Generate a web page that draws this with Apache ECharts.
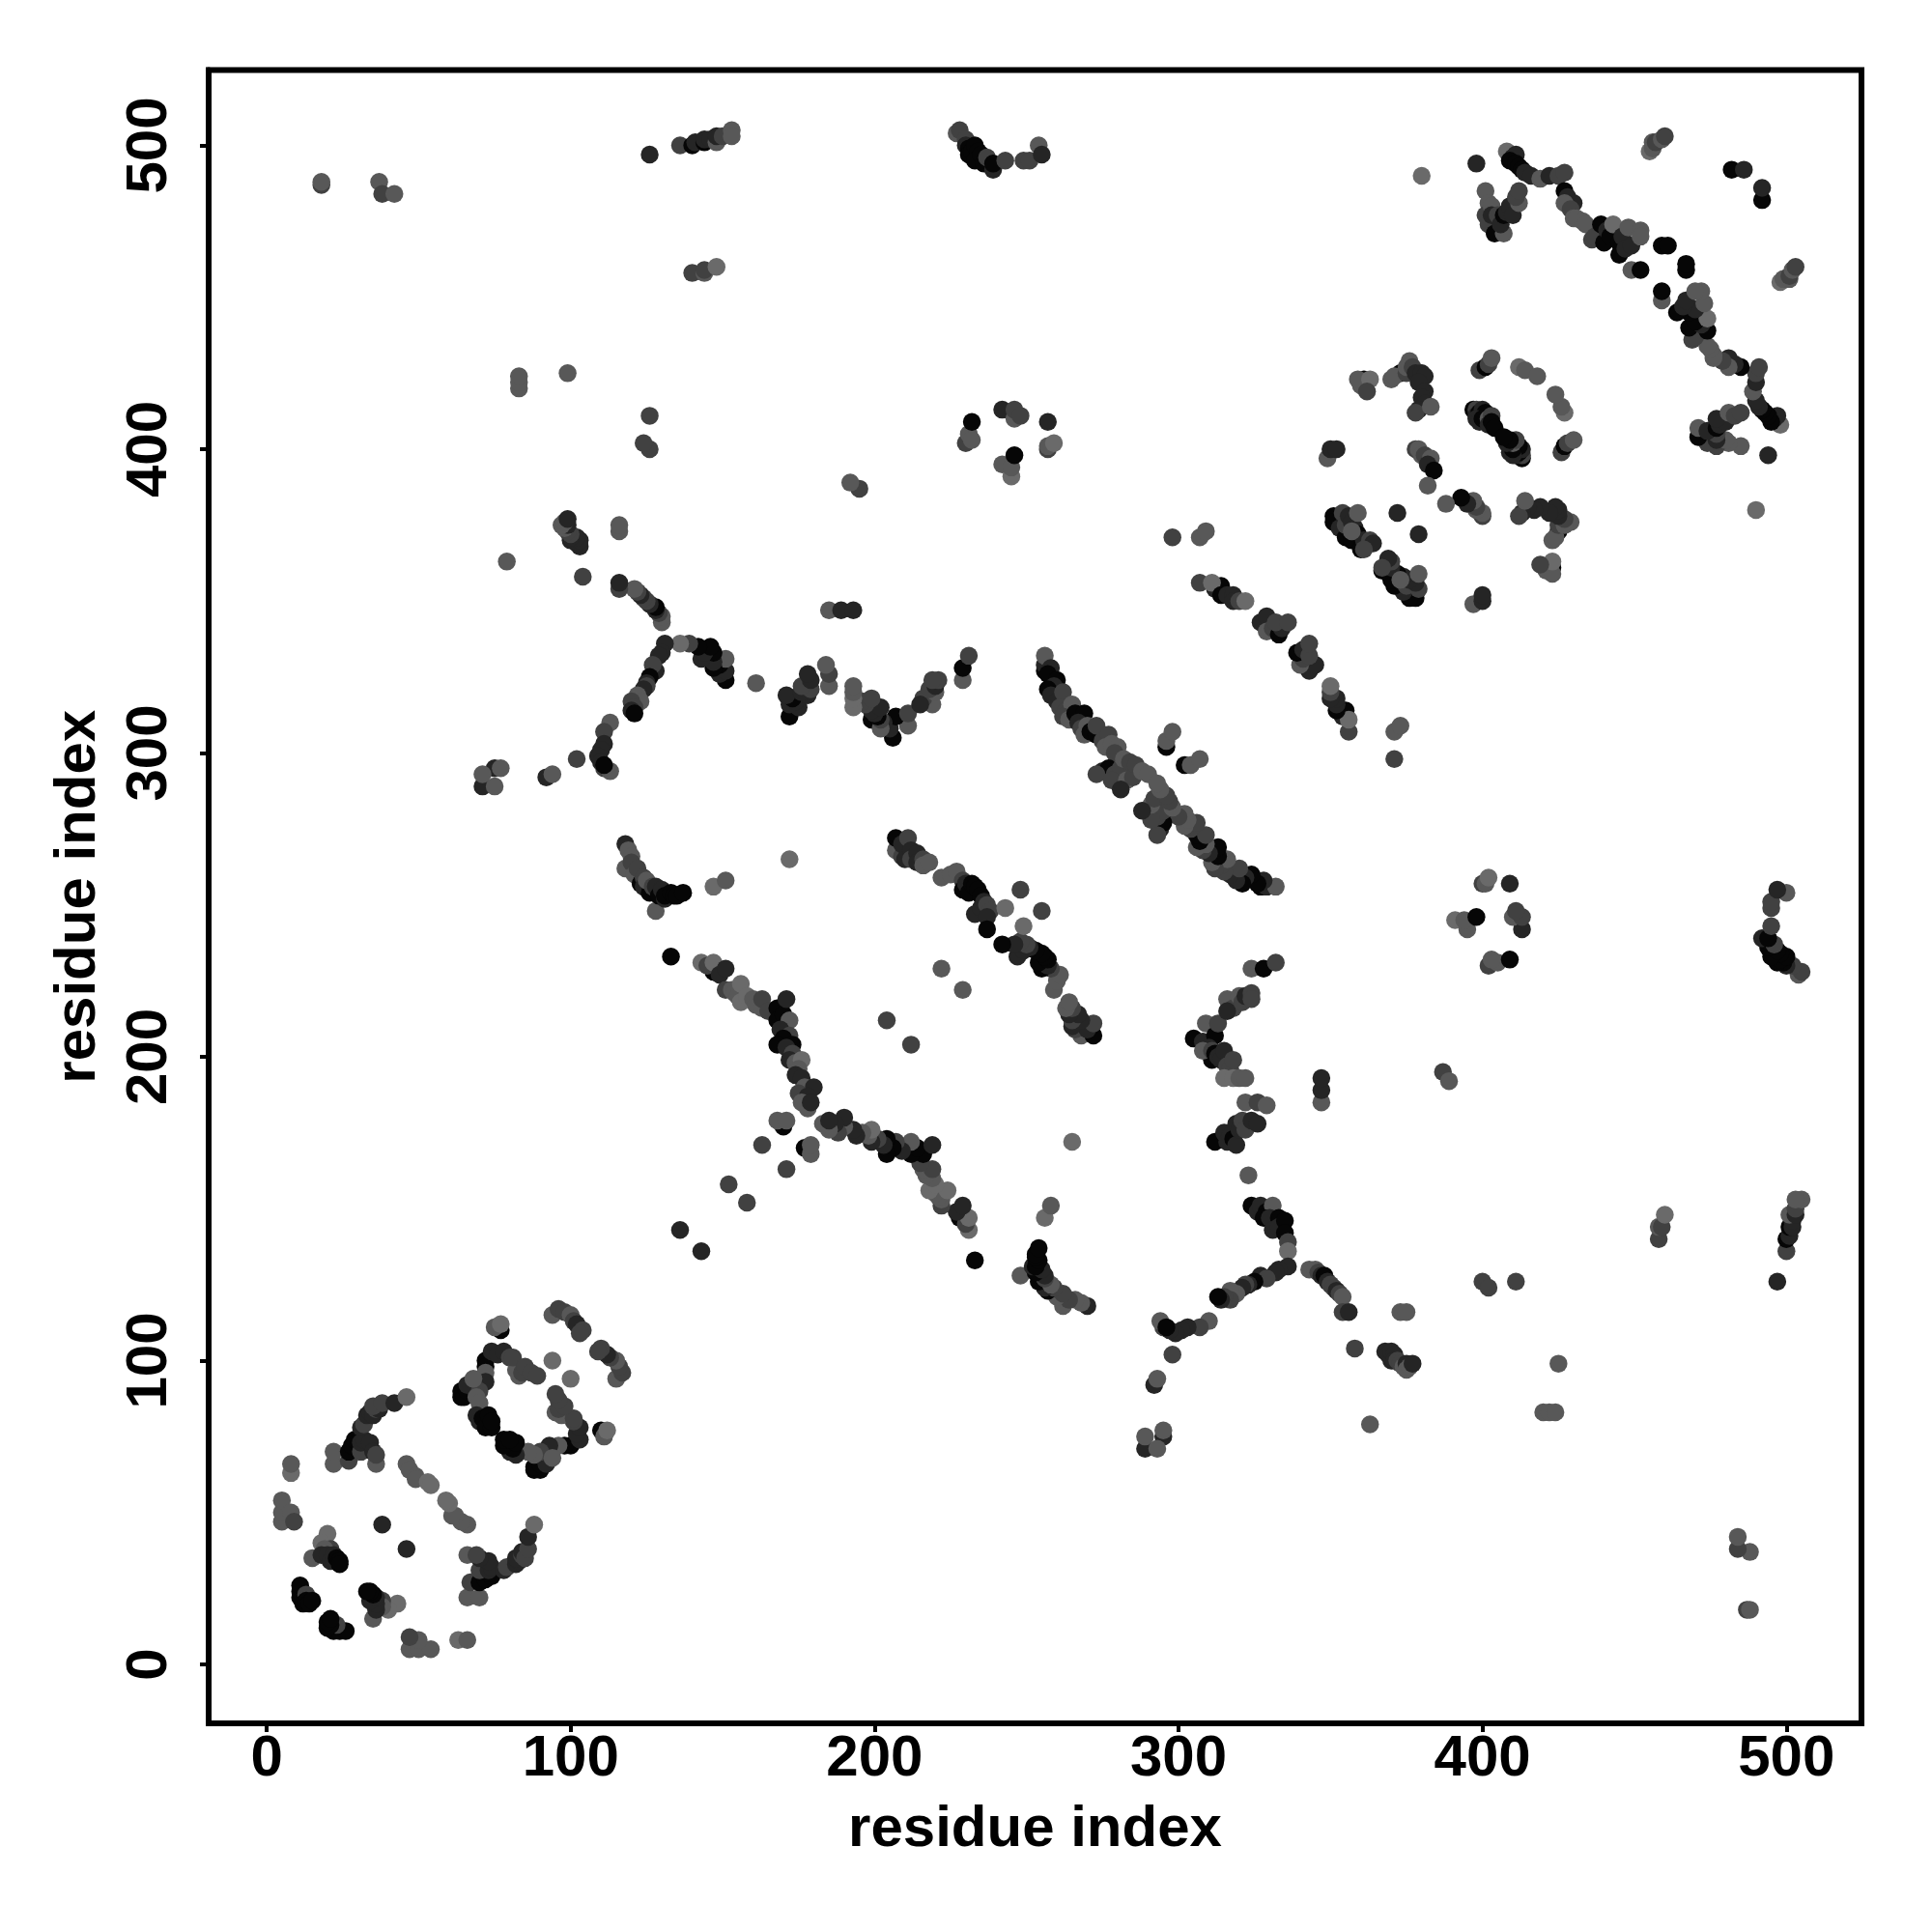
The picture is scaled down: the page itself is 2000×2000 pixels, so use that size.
<!DOCTYPE html>
<html>
<head>
<meta charset="utf-8">
<script src="https://cdn.jsdelivr.net/npm/echarts@6/dist/echarts.min.js"></script>
<style>html,body{margin:0;padding:0;background:#fff}#c{width:2000px;height:2000px}</style>
</head>
<body>
<div id="c"></div>
<script>
// Each contact: [residue a, residue b, score 0..4]. The map is symmetric, so each pair is listed once.
const xTicks = [0, 100, 200, 300, 400, 500];
const yTicks = [0, 100, 200, 300, 400, 500];
const axisName = "residue index";

const ringSmallA = [[22,66,3],[22,70,3],[27,67,2],[27,70,0],[28,72,0],[29,74,0],[30,73,0],[31,70,2],[31,73,1],[32,74,1],[34,73,1],[35,70,1],[36,66,3],[36,69,2],[31,78,1],[32,79,2],[33,82,1],[34,83,1],[35,82,1],[36,84,2],[37,84,1],[35,85,2],[38,86,2],[42,86,1],[46,88,4],
  [8,63,4],[8,66,3],[5,47,3],[5,50,3],[5,54,3],[8,50,3],[9,47,2],[15,35,3],[20,43,4],[18,40,4],[21,38,2],[19,38,3],[18,36,1],[20,36,1],[21,34,1],[22,36,1],[23,35,0],[24,34,0],[24,33,0],[38,46,1],
  [11,22,0],[11,24,0],[11,26,0],[13,23,2],[12,20,0],[13,21,0],[14,20,0],[15,21,0]];
const ringSmallB = [[46,66,3],[47,64,3],[49,62,3],[49,61,3],[53,60,4],[54,59,4],
  [77,110,0],[75,111,3],[77,112,4],[94,115,3],[96,117,2],[98,116,2],[100,115,3],[101,113,2],[102,112,1],[104,110,2],[103,109,2],
  [72,100,0],[72,98,0],[71,94,2],[72,96,3],[72,93,1],[74,103,1],[76,102,1],[78,103,1],[80,101,2],[83,95,3],[82,97,3],[81,101,2],[84,96,2],[85,98,2],[87,96,2],[89,95,2],[94,100,4],
  [64,88,0],[64,90,0],[65,88,0],[66,90,0],[66,92,1],[70,90,2],[68,94,3],[69,88,3],[70,86,3],[69,82,1],[70,80,1],[71,81,0],[72,78,0],[73,82,0],[74,78,0],[74,80,0]];
const stripA = [[118,270,1],[118,262,3],[119,268,3],[120,266,3],[120,264,2],[121,260,3],[122,262,2],[123,257,0],[124,259,2],[124,256,1],[126,254,0],[125,258,3],[127,256,2],[128,248,3],[128,256,1],[129,253,0],[130,255,1],[131,252,1],[131,253,0],[133,254,0],[134,253,0],[135,253,0],[137,254,0],[147,256,4],[151,258,3],[172,265,4]];
const stripB = [[207,268,3],[207,272,0],[209,266,2],[209,270,1],[211,272,2],[210,265,1],[212,268,1],[212,265,2],[214,267,1],[214,264,1],[216,265,2],[216,263,3],[218,264,3],[222,259,3],[225,260,3],[227,261,3],[229,258,2],[229,255,0],[230,257,1],[231,254,0],[232,257,0],[233,256,0],[234,255,0],[235,253,0],[233,247,1],[235,249,1],[236,251,1],[237,250,2],[238,248,2],[237,246,1],[237,242,0],[243,249,4],[248,255,2]];
const stripC = [[133,233,0],[147,228,0],[143,231,4],[145,230,2],[147,231,4],[149,227,1],[151,229,1],[151,222,2],[153,222,3],[154,221,3],[155,220,3],[156,224,4],[156,218,4],[158,220,4],[160,219,3],[161,217,3],[163,216,3],[163,219,2],[165,215,2],[168,216,0],[168,212,0],[170,214,0],[171,219,1],[172,212,3],[169,209,1],[172,207,2],[170,206,0],[168,204,0],[173,204,0],[171,203,1],[173,201,2],[172,199,1],[174,198,3],[176,199,4],[175,196,3],[174,194,1],[176,193,1],[177,190,3],[180,190,1],[175,188,2],[178,187,1],[176,185,3],[178,183,3],[179,185,1],
  [170,177,0],[168,179,3],[171,179,3],[163,171,2],[152,158,2],[136,143,1],[204,212,2],[222,229,3]];
const stripLong = [[256,327,0],[256,329,1],[256,332,3],[258,328,1],[257,326,0],[260,324,0],[259,322,1],[257,321,0],[258,319,1],[260,317,1],[262,320,2],[261,315,2],[263,314,2],[265,316,3],[262,312,2],[264,311,3],[266,313,0],[269,313,0],[267,310,1],[268,308,2],[269,306,3],[270,309,3],[271,307,0],[273,306,0],[273,309,2],[275,304,2],[277,306,2],[276,302,3],[278,303,3],[280,302,3],[279,300,2],[275,294,1],[277,295,0],[273,293,2],[279,293,2],[281,295,2],[282,298,3],[284,297,2],[278,291,2],[283,291,3],[285,292,2],[286,296,2],[281,288,1],[288,294,3],[290,293,3],[296,302,0],[296,304,3],[298,307,3]];
const stripD = [[307,356,2],[312,354,1],[314,355,0],[311,356,4],[314,352,0],[316,352,1],[318,352,1],[318,350,1],[320,350,2],[322,350,4],[327,343,1],[329,345,1],[329,340,3],[331,341,2],[333,339,0],[334,341,1],[332,343,2],[336,343,2],[298,371,2],[307,371,3],[309,373,3]];
const wingUpper = [[305,206,0],[308,205,1],[309,211,3],[312,207,0],[313,211,2],[310,203,1],[311,199,0],[308,202,3],[311,202,2],[312,201,0],[313,200,1],[314,199,1],[315,202,1],[316,197,2],[317,196,2],[318,199,2],[315,193,4],[318,193,4],[320,193,3],[322,193,3],[316,219,3],[318,216,2],[316,215,1],[320,220,3],[321,218,2],[322,220,1],[324,221,2],[324,219,2],[324,229,3],[328,229,0],[332,231,2]];
const wingLower = [[312,172,0],[315,175,1],[316,172,1],[317,174,1],[318,173,0],[319,171,1],[319,178,1],[320,176,1],[321,179,2],[322,176,2],[324,179,1],[326,178,1],[322,185,3],[326,185,2],[329,184,3],[323,161,3]];
const forkLeft = [[324,151,0],[326,149,1],[327,151,1],[329,149,0],[331,151,3],[328,147,0],[330,147,1],[333,147,0],[331,143,1],[333,144,1],[335,146,0],[335,142,0],[336,139,2],[336,136,4],[336,131,1],[333,130,1],[332,129,1],[327,128,1],[329,127,2],[325,126,0],[323,125,1],[322,125,2],[321,124,1],[319,122,3],[317,123,3],[317,120,2],[315,121,2],[314,120,1],[313,121,0],[310,113,3],[307,111,2],[303,111,1],[301,110,1],[299,109,1],[297,110,1],[295,111,2],[294,113,3],[296,111,0],[298,102,2],[292,92,1],[293,94,3],[295,75,1],[295,77,3],[289,71,1],[289,75,3],[293,71,3]];
const forkRight = [[343,130,3],[345,130,3],[346,129,2],[347,128,1],[348,128,0],[349,126,1],[350,125,2],[351,124,2],[352,123,1],[353,122,2],[354,121,3],[354,116,2],[356,116,1],[358,104,2],[363,79,3],[373,116,3],[375,116,3],[368,103,1],[369,102,1],[370,100,1],[370,103,1],[371,102,1],[371,100,1],[372,100,2],[373,99,2],[374,98,3],[375,99,1],[375,97,3],[376,98,3],[377,99,1],
  [347,185,3],[347,189,1],[347,193,1],[387,195,2],[389,192,3],[400,126,2],[402,124,2],[411,126,2],[425,99,3],[420,83,3],[422,83,3],[424,83,3]];
const mainStrip = [[408,498,4],[410,496,1],[411,497,1],[409,495,0],[411,494,0],[412,493,0],[413,492,0],[414,491,1],[416,490,1],[419,489,3],[422,490,1],[425,490,2],[427,491,2],[427,485,0],[428,483,1],[430,481,1],[427,481,3],[429,479,2],[430,476,3],[431,476,3],[433,475,3],[434,474,3],[436,469,2],[437,470,2],[439,474,0],[440,468,0],[441,472,1],[442,470,0],[443,474,4],[445,468,0],[445,464,0],[446,470,1],[447,466,1],[449,467,1],[448,473,3],[452,472,3],[452,470,3],[449,459,3],[452,459,0],[459,467,0],[461,467,0]];
const loopTop = [[401,485,3],[402,481,3],[401,477,2],[403,480,3],[404,474,3],[402,474,2],[404,471,0],[407,471,3],[403,477,1],[405,477,2],[406,474,1],[407,477,0],[408,478,1],[409,480,1],[410,477,1],[412,481,3],[411,483,2],[412,485,2],[398,494,1],[380,490,4]];
const farCorner = [[455,498,4],[456,499,3],[456,501,3],[457,501,2],[459,502,3],[460,503,2],[482,492,0],[486,492,1],[18,487,2],[18,488,3],[37,488,3],[38,484,2],[42,484,3],[126,497,1],[136,500,2],[140,500,0],[141,501,1],[144,501,0],[144,502,1],[146,502,1],[148,501,3],[148,503,1],[150,503,2],[153,505,3],[153,503,3],[140,458,2],[144,458,3],[144,459,2],[148,460,4]];
const topStrip = [[227,504,3],[228,505,2],[230,502,2],[230,500,1],[231,499,0],[231,497,0],[232,498,0],[233,500,0],[234,498,0],[233,495,0],[235,497,0],[236,494,0],[237,496,2],[239,492,1],[239,494,0],[243,495,2],[249,495,2],[251,495,2],[254,500,3],[255,497,1]];
const midRing = [[230,402,2],[231,405,3],[232,403,3],[232,409,0],[242,413,1],[246,410,3],[246,413,2],[248,411,2],[257,409,1],[257,400,2],[257,401,3],[259,402,4],[245,391,4],[242,395,3],[245,394,3],[246,398,0]];
const ringLarge = [[360,421,3],[361,423,0],[359,423,3],[363,423,4],[362,419,2],[370,423,3],[373,425,0],[371,424,3],[375,425,2],[376,429,3],[375,427,3],[377,427,2],[378,425,1],[380,425,1],[381,424,1],[379,422,1],[381,419,1],[380,417,1],[381,415,1],[379,413,1],[378,412,2],[383,414,3],
  [399,426,2],[401,427,0],[402,428,2],[403,430,3],[412,427,4],[414,426,3],[418,424,3],[397,413,0],[398,413,2],[398,411,1],[399,412,0],[400,413,1],[400,411,1],[401,412,0],[398,410,1],[399,409,1],[400,410,0],[402,410,3],[403,411,2],[402,408,1],[403,409,0],[404,407,0],
  [349,397,3],[350,400,1],[352,400,1],[378,400,2],[379,400,3],[380,398,3],[381,398,2],[383,397,3],[382,395,1],[384,393,0],[382,388,3],
  [351,378,0],[351,376,0],[353,374,1],[355,371,0],[355,375,2],[354,379,2],[356,378,1],[357,376,1],[357,370,0],[358,374,1],[359,372,0],[359,379,3],[360,367,0],[361,370,1],[363,370,2],[364,369,1],[361,367,2],[357,373,3],[372,379,1]];

const clusters = [ringSmallA, ringSmallB, stripA, stripB, stripC, stripLong, stripD, wingUpper, wingLower, forkLeft, forkRight, mainStrip, loopTop, farCorner, topStrip, midRing, ringLarge];
const greys = ['#060606', '#252525', '#414141', '#585858', '#6a6a6a'];

const points = [];
clusters.forEach(c => c.forEach(p => points.push([p[0], p[1], p[2]])));
clusters.forEach(c => c.forEach(p => points.push([p[1], p[0], p[2]])));

const font = '"Liberation Sans", Arial, sans-serif';
const chart = echarts.init(document.getElementById('c'), null, {renderer: 'canvas'});
const axisCommon = {
  type: 'value',
  name: axisName,
  nameLocation: 'middle',
  nameTextStyle: {color: '#000', fontFamily: font, fontWeight: 'bold', fontSize: 60},
  splitLine: {show: false},
  axisLine: {show: true, onZero: false, lineStyle: {color: '#000', width: 6}},
};
chart.setOption({
  animation: false,
  backgroundColor: '#fff',
  grid: {left: 216, top: 72.5, width: 1711, height: 1711.5, show: true, borderColor: '#000', borderWidth: 6, backgroundColor: '#fff'},
  xAxis: Object.assign({}, axisCommon, {
    min: -19.1, max: 524.7, nameGap: 80,
    axisTick: {show: true, length: 9, lineStyle: {color: '#000', width: 4}, customValues: xTicks},
    axisLabel: {color: '#000', fontFamily: font, fontWeight: 'bold', fontSize: 60, margin: 7, customValues: xTicks}
  }),
  yAxis: Object.assign({}, axisCommon, {
    min: -19.4, max: 524.8, nameGap: 105, nameRotate: 90,
    axisTick: {show: true, length: 9, lineStyle: {color: '#000', width: 4}, customValues: yTicks},
    axisLabel: {color: '#000', fontFamily: font, fontWeight: 'bold', fontSize: 60, margin: 31, rotate: 90, verticalAlign: 'bottom', align: 'center', customValues: yTicks}
  }),
  series: [{
    type: 'scatter',
    symbol: 'circle',
    symbolSize: 18.5,
    data: points,
    large: false,
    clip: true,
    itemStyle: {color: p => greys[p.value[2]], opacity: 1},
    emphasis: {disabled: true}
  }]
});
</script>
</body>
</html>
